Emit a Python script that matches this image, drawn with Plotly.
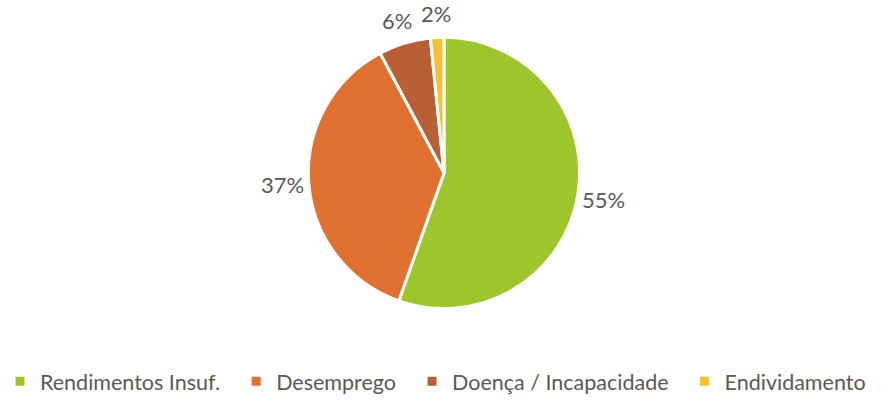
import math
import plotly.graph_objects as go

labels = ["Rendimentos Insuf.", "Desemprego", "Doença / Incapacidade", "Endividamento"]
values = [55.4, 36.8, 6.2, 1.6]
colors = ["#9dc62d", "#e0702f", "#b95f35", "#f2c234"]

W, H = 887, 402
CX, CY, R = 444, 176, 135  # pie centre / radius in pixels
RD = R + 3                 # domain half-size (plotly insets the pie slightly)
FONT = "Lato"
TXT = "#595959"
FS = 22
LFS = 21.5

fig = go.Figure(go.Pie(
    labels=[l + "\u00a0\u00a0" for l in labels],
    values=values,
    sort=False,
    direction="clockwise",
    rotation=0,
    marker=dict(colors=colors, line=dict(color="white", width=3)),
    textposition="none",
    domain=dict(x=[(CX - RD) / W, (CX + RD) / W], y=[1 - (CY + RD) / H, 1 - (CY - RD) / H]),
    hoverinfo="label+percent",
))

# percentage labels placed outside each slice, at the slice's mid-angle
total = sum(values)
cum = 0.0
for v in values:
    mid = (cum + v / 2) / total * 2 * math.pi
    cum += v
    d = R * 1.2
    px = CX + d * math.sin(mid)
    py = CY - d * math.cos(mid)
    fig.add_annotation(
        x=px / W, y=1 - py / H, xref="paper", yref="paper",
        text=f"{round(v / total * 100)}%", showarrow=False,
        font=dict(size=FS, color=TXT, family=FONT),
        xanchor="center", yanchor="middle",
    )

fig.update_layout(
    width=W, height=H,
    margin=dict(l=0, r=0, t=0, b=0),
    paper_bgcolor="white",
    plot_bgcolor="white",
    showlegend=True,
    legend=dict(
        orientation="h", x=0, xanchor="left", y=1 - 388 / H, yanchor="middle",
        font=dict(size=LFS, color=TXT, family=FONT),
        itemwidth=30,
    ),
)

fig.write_html("out.html", config={"displayModeBar": False},
               post_script="document.body.style.margin='0';")
